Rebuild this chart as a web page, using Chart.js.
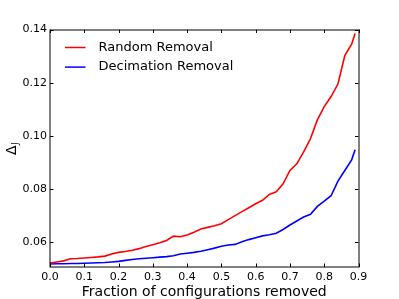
<!DOCTYPE html>
<html>
<head>
<meta charset="utf-8">
<script src="https://cdn.jsdelivr.net/npm/chart.js@4/dist/chart.umd.min.js"></script>
<style>
html,body{margin:0;padding:0;background:#fff;}
#wrap{width:399px;height:299px;}
</style>
</head>
<body>
<div id="wrap"><canvas id="c" width="399" height="299"></canvas></div>
<script>
const fractionRemoved = [0.00,0.02,0.04,0.06,0.08,0.10,0.12,0.14,0.16,0.18,0.20,0.22,0.24,0.26,0.28,0.30,0.32,0.34,0.36,0.38,0.40,0.42,0.44,0.46,0.48,0.50,0.52,0.54,0.56,0.58,0.60,0.62,0.64,0.66,0.68,0.70,0.72,0.74,0.76,0.78,0.80,0.82,0.84,0.86,0.88,0.89];
const randomRemoval = [0.0522,0.0526,0.0530,0.0538,0.0539,0.0541,0.0543,0.0545,0.0548,0.0556,0.0562,0.0565,0.0570,0.0576,0.0584,0.0591,0.0598,0.0607,0.0623,0.0621,0.0627,0.0638,0.0650,0.0656,0.0662,0.0670,0.0685,0.0700,0.0715,0.0730,0.0745,0.0758,0.0780,0.0790,0.0820,0.0870,0.0895,0.0940,0.0990,0.1060,0.1110,0.1148,0.1195,0.1302,0.1345,0.1385];
const decimationRemoval = [0.0518,0.0519,0.0519,0.0520,0.0520,0.0521,0.0522,0.0523,0.0524,0.0526,0.0528,0.0532,0.0535,0.0538,0.0540,0.0542,0.0544,0.0546,0.0549,0.0556,0.0559,0.0562,0.0566,0.0572,0.0578,0.0585,0.0590,0.0592,0.0602,0.0610,0.0617,0.0624,0.0628,0.0634,0.0648,0.0665,0.0680,0.0695,0.0705,0.0735,0.0755,0.0775,0.0830,0.0870,0.0910,0.0948];
const xTicks = [0.0,0.1,0.2,0.3,0.4,0.5,0.6,0.7,0.8,0.9];
const yTicks = [0.06,0.08,0.10,0.12,0.14];
const seriesNames = ['Random Removal','Decimation Removal'];
const xTitle = 'Fraction of configurations removed';

const FONT = '"DejaVu Sans", sans-serif';

const decorPlugin = {
  id: 'decor',
  afterDraw(chart) {
    const ctx = chart.ctx;
    const a = chart.chartArea;
    const xs = chart.scales.x, ys = chart.scales.y;
    ctx.save();
    // inward tick marks
    ctx.strokeStyle = '#000';
    ctx.lineWidth = 1;
    const tl = 3.5;
    ctx.beginPath();
    xTicks.forEach(v => {
      const px = Math.round(xs.getPixelForValue(v)) + 0.5;
      ctx.moveTo(px, a.bottom); ctx.lineTo(px, a.bottom - tl);
      ctx.moveTo(px, a.top); ctx.lineTo(px, a.top + tl);
    });
    yTicks.forEach(v => {
      const py = Math.round(ys.getPixelForValue(v)) + 0.5;
      ctx.moveTo(a.left, py); ctx.lineTo(a.left + tl, py);
      ctx.moveTo(a.right, py); ctx.lineTo(a.right - tl, py);
    });
    ctx.stroke();
    // frame
    ctx.strokeStyle = '#000';
    ctx.lineWidth = 1;
    ctx.strokeRect(Math.round(a.left), Math.round(a.top), Math.round(a.right) - Math.round(a.left), Math.round(a.bottom) - Math.round(a.top));
    // legend
    const ds = chart.data.datasets;
    ctx.font = '13px ' + FONT;
    ctx.textBaseline = 'middle';
    ctx.textAlign = 'left';
    ds.forEach((d, i) => {
      const y = a.top + 18 + i * 19.6;
      ctx.strokeStyle = d.borderColor;
      ctx.lineWidth = 1.5;
      ctx.beginPath();
      ctx.moveTo(a.left + 15, y); ctx.lineTo(a.left + 35.5, y);
      ctx.stroke();
      ctx.fillStyle = '#000';
      ctx.fillText(d.label, a.left + 48.5, y);
    });
    // x title
    ctx.font = '14px ' + FONT;
    ctx.textAlign = 'center';
    ctx.textBaseline = 'alphabetic';
    ctx.fillStyle = '#000';
    ctx.fillText(xTitle, (a.left + a.right) / 2, 295.5);
    // y title: Delta with subscript J, rotated
    ctx.translate(16, 150);
    ctx.rotate(-Math.PI / 2);
    ctx.textAlign = 'left';
    ctx.font = '14px ' + FONT;
    ctx.fillText('\u0394', -5, 0);
    ctx.font = '9px ' + FONT;
    ctx.fillText('J', 5, 2);
    ctx.restore();
  }
};

new Chart(document.getElementById('c'), {
  type: 'line',
  data: {
    datasets: [
      {
        label: seriesNames[0],
        data: fractionRemoved.map((x, i) => ({x: x, y: randomRemoval[i]})),
        borderColor: '#ff0000',
        borderWidth: 1.6,
        pointRadius: 0,
        tension: 0,
        fill: false
      },
      {
        label: seriesNames[1],
        data: fractionRemoved.map((x, i) => ({x: x, y: decimationRemoval[i]})),
        borderColor: '#0000ff',
        borderWidth: 1.6,
        pointRadius: 0,
        tension: 0,
        fill: false
      }
    ]
  },
  options: {
    responsive: false,
    animation: false,
    devicePixelRatio: 1,
    layout: { padding: { left: 0, top: 29.5, right: 40.5, bottom: 0 } },
    plugins: { legend: { display: false }, tooltip: { enabled: false } },
    scales: {
      x: {
        type: 'linear',
        min: 0, max: 0.9,
        afterBuildTicks: s => { s.ticks = xTicks.map(v => ({value: v})); },
        afterFit: s => { s.height = 32; },
        grid: { display: false, drawTicks: false },
        border: { display: false },
        ticks: {
          font: { family: FONT, size: 11 },
          color: '#000',
          padding: 4,
          maxRotation: 0,
          autoSkip: false,
          callback: v => v.toFixed(1)
        }
      },
      y: {
        type: 'linear',
        min: 0.0507, max: 0.14,
        afterBuildTicks: s => { s.ticks = yTicks.map(v => ({value: v})); },
        afterFit: s => { s.width = 50; },
        grid: { display: false, drawTicks: false },
        border: { display: false },
        ticks: {
          font: { family: FONT, size: 11 },
          color: '#000',
          padding: 3,
          autoSkip: false,
          callback: v => v.toFixed(2)
        }
      }
    }
  },
  plugins: [decorPlugin]
});
</script>
</body>
</html>
